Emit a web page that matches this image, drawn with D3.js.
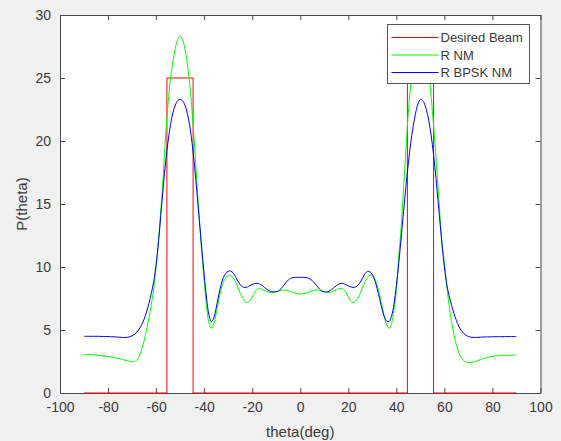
<!DOCTYPE html>
<html>
<head>
<meta charset="utf-8">
<script src="https://cdn.jsdelivr.net/npm/d3@7"></script>
<style>
  body { margin: 0; background: #f0f0f0; }
  text { font-family: "Liberation Sans", Arial, sans-serif; }
</style>
</head>
<body>
<div id="chart"></div>
<script>
// sample grid, one point per degree from -90 to 90
var theta = d3.range(-90, 91);

// R BPSK NM (blue)
var pBpsk = [
  4.50, 4.50, 4.50, 4.50, 4.50, 4.50, 4.50, 4.49, 4.49, 4.48,
  4.48, 4.47, 4.46, 4.45, 4.44, 4.42, 4.41, 4.40, 4.42, 4.46,
  4.54, 4.66, 4.84, 5.08, 5.42, 5.86, 6.42, 7.10, 7.90, 8.85,
  10.20, 12.00, 14.20, 16.40, 18.40, 20.00, 21.30, 22.25, 22.85, 23.20,
  23.30, 23.20, 22.85, 22.20, 21.20, 19.80, 18.00, 15.90, 13.70, 11.50,
  9.40, 7.55, 6.20, 5.66, 5.95, 6.75, 7.70, 8.55, 9.15, 9.50,
  9.65, 9.68, 9.55, 9.25, 8.90, 8.60, 8.42, 8.38, 8.42, 8.52,
  8.62, 8.68, 8.70, 8.66, 8.55, 8.40, 8.24, 8.12, 8.05, 8.02,
  8.04, 8.12, 8.28, 8.50, 8.75, 8.97, 9.10, 9.16, 9.18, 9.18,
  9.18,
  9.18, 9.17, 9.14, 9.06, 8.92, 8.72, 8.48, 8.26, 8.10, 8.02,
  8.02, 8.08, 8.20, 8.36, 8.52, 8.64, 8.70, 8.68, 8.60, 8.50,
  8.42, 8.38, 8.42, 8.55, 8.80, 9.15, 9.48, 9.65, 9.62, 9.40,
  8.95, 8.30, 7.50, 6.70, 6.05, 5.70, 5.68, 6.10, 7.05, 8.50,
  10.30, 12.30, 14.40, 16.40, 18.25, 19.85, 21.15, 22.20, 22.95, 23.30,
  23.20, 22.80, 22.10, 21.05, 19.70, 18.00, 16.00, 13.90, 11.80, 10.00,
  8.60, 7.70, 6.95, 6.30, 5.75, 5.30, 4.97, 4.74, 4.58, 4.48,
  4.43, 4.41, 4.41, 4.42, 4.43, 4.44, 4.45, 4.45, 4.46, 4.46,
  4.47, 4.47, 4.47, 4.47, 4.48, 4.48, 4.48, 4.48, 4.48, 4.48
];

// R NM (green)
var pNm = [
  3.07, 3.06, 3.05, 3.04, 3.03, 3.01, 2.99, 2.97, 2.94, 2.92,
  2.89, 2.86, 2.83, 2.79, 2.75, 2.71, 2.66, 2.61, 2.56, 2.51,
  2.48, 2.50, 2.62, 2.92, 3.45, 4.15, 5.00, 5.95, 7.00, 8.30,
  10.00, 12.10, 14.60, 17.30, 20.60, 23.00, 25.00, 26.30, 27.35, 28.05,
  28.30, 28.05, 27.30, 26.10, 24.50, 22.30, 19.60, 16.60, 13.80, 11.20,
  8.90, 6.90, 5.55, 5.13, 5.45, 6.30, 7.30, 8.20, 8.80, 9.15,
  9.30, 9.32, 9.18, 8.85, 8.40, 7.92, 7.52, 7.26, 7.18, 7.30,
  7.62, 7.98, 8.22, 8.30, 8.25, 8.15, 8.05, 7.99, 7.97, 8.00,
  8.05, 8.10, 8.15, 8.18, 8.17, 8.12, 8.05, 7.97, 7.91, 7.87,
  7.86,
  7.87, 7.91, 7.97, 8.05, 8.12, 8.17, 8.18, 8.15, 8.10, 8.05,
  8.00, 7.98, 8.02, 8.10, 8.20, 8.28, 8.30, 8.22, 7.98, 7.62,
  7.30, 7.18, 7.26, 7.52, 7.92, 8.40, 8.85, 9.20, 9.35, 9.30,
  9.05, 8.55, 7.80, 6.95, 6.05, 5.40, 5.13, 5.50, 6.60, 8.20,
  10.80, 13.20, 16.20, 19.40, 22.30, 24.50, 26.10, 27.30, 28.05, 28.30,
  28.05, 27.30, 26.10, 24.50, 22.40, 20.00, 17.30, 14.50, 11.90, 10.30,
  8.50, 6.90, 5.60, 4.60, 3.80, 3.20, 2.80, 2.57, 2.45, 2.40,
  2.41, 2.45, 2.51, 2.58, 2.65, 2.72, 2.78, 2.83, 2.87, 2.90,
  2.93, 2.95, 2.97, 2.98, 2.99, 3.00, 3.00, 3.01, 3.01, 3.02
];

// Desired beam (red), a two-window mask
var beamTheta = [-90, -55.5, -55.5, -44.6, -44.6, 44.6, 44.6, 55.5, 55.5, 90];
var beamP = [0, 0, 25, 25, 0, 0, 25, 25, 0, 0];

var xTicks = [-100, -80, -60, -40, -20, 0, 20, 40, 60, 80, 100];
var yTicks = [0, 5, 10, 15, 20, 25, 30];

var legendNames = ["Desired Beam", "R NM", "R BPSK NM"];
var legendColors = ["#ff0000", "#00ff00", "#0000ff"];

var svgWidth = 561;
var svgHeight = 441;
var margin = { top: 15, right: 20.5, bottom: 48, left: 60 };
var width = svgWidth - margin.left - margin.right;
var height = svgHeight - margin.top - margin.bottom;

var svg = d3.select("#chart")
  .append("svg")
  .attr("width", svgWidth)
  .attr("height", svgHeight);

svg.append("rect")
  .attr("width", svgWidth)
  .attr("height", svgHeight)
  .attr("fill", "#f0f0f0");

var chartGroup = svg.append("g")
  .attr("transform", `translate(${margin.left}, ${margin.top})`);

chartGroup.append("rect")
  .attr("width", width)
  .attr("height", height)
  .attr("fill", "#ffffff");

// scales
var xScale = d3.scaleLinear().domain([-100, 100]).range([0, width]);
var yScale = d3.scaleLinear().domain([0, 30]).range([height, 0]);

// axes, ticks pointing inward on all four sides
var fmt = d => String(d);
var bottomAxis = d3.axisBottom(xScale).tickValues(xTicks).tickSizeInner(-5).tickSizeOuter(0).tickPadding(9).tickFormat(fmt);
var leftAxis = d3.axisLeft(yScale).tickValues(yTicks).tickSizeInner(-5).tickSizeOuter(0).tickPadding(9).tickFormat(fmt);
var topAxis = d3.axisTop(xScale).tickValues(xTicks).tickSizeInner(-5).tickSizeOuter(0).tickFormat("");
var rightAxis = d3.axisRight(yScale).tickValues(yTicks).tickSizeInner(-5).tickSizeOuter(0).tickFormat("");

var axisColor = "#4a4a4a";

function styleAxis(g) {
  g.select(".domain").attr("stroke", axisColor);
  g.selectAll(".tick line").attr("stroke", axisColor);
  g.selectAll(".tick text")
    .attr("fill", "#3a3a3a")
    .style("font-size", "14px")
    .style("font-family", "'Liberation Sans', Arial, sans-serif");
}

chartGroup.append("g").attr("transform", `translate(0, ${height})`).call(bottomAxis).call(styleAxis);
chartGroup.append("g").call(leftAxis).call(styleAxis);
chartGroup.append("g").call(topAxis).call(styleAxis);
chartGroup.append("g").attr("transform", `translate(${width}, 0)`).call(rightAxis).call(styleAxis);

// axis labels
chartGroup.append("text")
  .attr("x", width / 2)
  .attr("y", height + 44)
  .attr("text-anchor", "middle")
  .attr("fill", "#3a3a3a")
  .style("font-size", "15px")
  .text("theta(deg)");

chartGroup.append("text")
  .attr("transform", "rotate(-90)")
  .attr("x", -(height / 2))
  .attr("y", -33)
  .attr("text-anchor", "middle")
  .attr("fill", "#3a3a3a")
  .style("font-size", "15px")
  .text("P(theta)");

// lines
var line = d3.line()
  .x(d => xScale(d[0]))
  .y(d => yScale(d[1]));

chartGroup.append("path")
  .datum(beamTheta.map((t, i) => [t, beamP[i]]))
  .attr("fill", "none")
  .attr("stroke", legendColors[0])
  .attr("stroke-width", 1)
  .attr("d", line);

chartGroup.append("path")
  .datum(theta.map((t, i) => [t, pNm[i]]))
  .attr("fill", "none")
  .attr("stroke", legendColors[1])
  .attr("stroke-width", 1)
  .attr("d", line.curve(d3.curveCatmullRom));

chartGroup.append("path")
  .datum(theta.map((t, i) => [t, pBpsk[i]]))
  .attr("fill", "none")
  .attr("stroke", legendColors[2])
  .attr("stroke-width", 1)
  .attr("d", line.curve(d3.curveCatmullRom));

// legend
var legend = svg.append("g").attr("transform", "translate(387.5, 24.5)");

legend.append("rect")
  .attr("width", 142)
  .attr("height", 59)
  .attr("fill", "#ffffff")
  .attr("stroke", "#555555");

legendNames.forEach((name, i) => {
  var y = 13 + i * 17.5;
  legend.append("line")
    .attr("x1", 4).attr("x2", 51)
    .attr("y1", y).attr("y2", y)
    .attr("stroke", legendColors[i])
    .attr("stroke-width", 1);
  legend.append("text")
    .attr("x", 53)
    .attr("y", y + 4.5)
    .attr("fill", "#3a3a3a")
    .style("font-size", "13px")
    .text(name);
});
</script>
</body>
</html>
